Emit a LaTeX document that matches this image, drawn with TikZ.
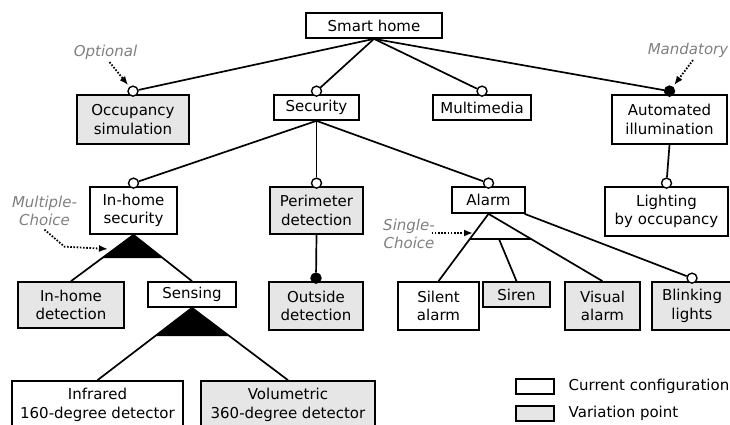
\documentclass[tikz,border=0pt]{standalone}
\usepackage{fontspec}
\setmainfont{DejaVu Sans}
\usetikzlibrary{calc, positioning, arrows.meta}
\definecolor{vpgray}{HTML}{E6E6E6}
\definecolor{notegray}{HTML}{808080}

\begin{document}
\begin{tikzpicture}[x=1pt, y=-1pt, line width=1.7pt,
    feature/.style={draw, fill=white, inner sep=0pt, align=center, font=\fontsize{15}{18.5}\selectfont},
    varpoint/.style={feature, fill=vpgray},
    optional/.style={circle, draw, fill=white, inner sep=0pt, minimum size=10pt, line width=1.4pt},
    mandatory/.style={optional, fill=black},
    note/.style={text=notegray, inner sep=0pt, align=center, font=\fontsize{15}{18}\selectfont\itshape},
    hint/.style={-{Latex[length=9pt, width=7pt]}, line width=1.8pt, dash pattern=on 1.6pt off 1.6pt}]
    \useasboundingbox (0,0) rectangle (730,425);

    % draw feature boxes, top level
    \node[feature, minimum width=136pt, minimum height=25pt] (home) at (374,25.5) {Smart home};
    \node[varpoint, minimum width=112pt, minimum height=49pt] (occ) at (133,119.5) {Occupancy\\simulation};
    \node[feature, minimum width=85pt, minimum height=25pt] (sec) at (316.5,107.5) {Security};
    \node[feature, minimum width=98pt, minimum height=25pt] (media) at (482,107.5) {Multimedia};
    \node[feature, minimum width=115pt, minimum height=49pt] (auto) at (669.5,119.5) {Automated\\illumination};

    % second level
    \node[feature, minimum width=87pt, minimum height=47pt] (ihs) at (133.5,210.5) {In-home\\security};
    \node[varpoint, minimum width=93pt, minimum height=47pt] (per) at (316.5,210.5) {Perimeter\\detection};
    \node[feature, minimum width=73pt, minimum height=26pt] (alarm) at (488.5,200) {Alarm};
    \node[feature, minimum width=123pt, minimum height=49pt] (light) at (666.5,211.5) {Lighting\\by occupancy};

    % third level
    \node[varpoint, minimum width=106pt, minimum height=46pt] (ihd) at (71,305) {In-home\\detection};
    \node[feature, minimum width=88pt, minimum height=25pt] (sens) at (192,294.5) {Sensing};
    \node[varpoint, minimum width=94pt, minimum height=48pt] (out) at (316,306) {Outside\\detection};
    \node[feature, minimum width=81pt, minimum height=48pt] (silent) at (438.5,306) {Silent\\alarm};
    \node[varpoint, minimum width=67pt, minimum height=25pt] (siren) at (516.5,294.5) {Siren};
    \node[varpoint, minimum width=75pt, minimum height=48pt] (visual) at (602.5,306) {Visual\\alarm};
    \node[varpoint, minimum width=80pt, minimum height=48pt] (blink) at (692,306) {Blinking\\lights};

    % sensors
    \node[feature, minimum width=171pt, minimum height=48pt] (infra) at (97.5,405) {Infrared\\160-degree detector};
    \node[varpoint, minimum width=174pt, minimum height=48pt] (vol) at (288,405) {Volumetric\\360-degree detector};

    % draw optional and mandatory markers
    \node[optional] (occ-c) at ([yshift=3pt]occ.north) {};
    \node[optional] (sec-c) at ([yshift=3pt]sec.north) {};
    \node[optional] (media-c) at ([yshift=3pt]media.north) {};
    \node[mandatory] (auto-c) at ([yshift=3pt]auto.north) {};
    \node[optional] (ihs-c) at ([yshift=3pt]ihs.north) {};
    \node[optional] (per-c) at ([yshift=3pt]per.north) {};
    \node[optional] (alarm-c) at ([yshift=3pt]alarm.north) {};
    \node[optional] (light-c) at ([yshift=3pt]light.north) {};
    \node[mandatory] (out-c) at ([yshift=3pt]out.north) {};
    \node[optional] (blink-c) at ([yshift=3pt]blink.north) {};

    % draw tree edges
    \draw (home.south) -- (occ-c);
    \draw (home.south) -- (sec-c);
    \draw (home.south) -- (media-c);
    \draw (home.south) -- (auto-c);
    \draw (sec.south) -- (ihs-c);
    \draw (sec.south) -- (per-c);
    \draw (sec.south) -- (alarm-c);
    \draw (auto.south) -- (light-c);
    \draw (per.south) -- (out-c);
    \draw (alarm) -- (blink-c);

    % draw group triangles
    \fill (ihs.south) -- ($(ihs.south)!0.5!(ihd.north)$) -- ($(ihs.south)!0.5!(sens.north)$) -- cycle;
    \draw (ihs.south) -- (ihd.north);
    \draw (ihs.south) -- (sens.north);

    \fill (sens.south) -- ($(sens.south)!0.39!(infra.north)$) -- ($(sens.south)!0.39!(vol.north)$) -- cycle;
    \draw (sens.south) -- (infra.north);
    \draw (sens.south) -- (vol.north);

    \draw ($(alarm.south)!0.377!(silent.north)$) -- ($(alarm.south)!0.377!(visual.north)$);
    \draw (alarm.south) -- (silent.north);
    \draw (alarm.south) -- (visual.north);
    \draw ($(alarm.south)!0.377!(siren.north)$) -- (siren.north);

    % draw notes
    \node[note] (opt-note) at (105.5,52) {Optional};
    \node[note] (mand-note) at (688,50) {Mandatory};
    \node[note] (mc-note) at (44.5,211) {Multiple-\\Choice};
    \node[note] (sc-note) at (409,234) {Single-\\Choice};
    \coordinate (mc-tip) at (108,249);
    \coordinate (sc-tip) at (473,233);

    \draw[hint, shorten >=2pt] ([xshift=4pt, yshift=-2pt]opt-note.south) -- (occ-c);
    \draw[hint, shorten >=2pt] ([xshift=5pt, yshift=-2pt]mand-note.south) -- (auto-c);
    \draw[hint] ([yshift=-3pt]mc-note.south) -- ++(20,17) -- (mc-tip);
    \draw[hint] ([xshift=-4pt]sc-note.east |- sc-tip) -- (sc-tip);

    % draw legend
    \node[feature, minimum width=38pt, minimum height=15pt] (lg-cur) at (535,386.5) {};
    \node[varpoint, minimum width=38pt, minimum height=15pt] (lg-var) at (535,413.5) {};
    \node[feature, draw=none, fill=none, right=13pt of lg-cur] (lg-cur-text) {Current configuration};
    \node[feature, draw=none, fill=none, right=13pt of lg-var] (lg-var-text) {Variation point};
\end{tikzpicture}
\end{document}
